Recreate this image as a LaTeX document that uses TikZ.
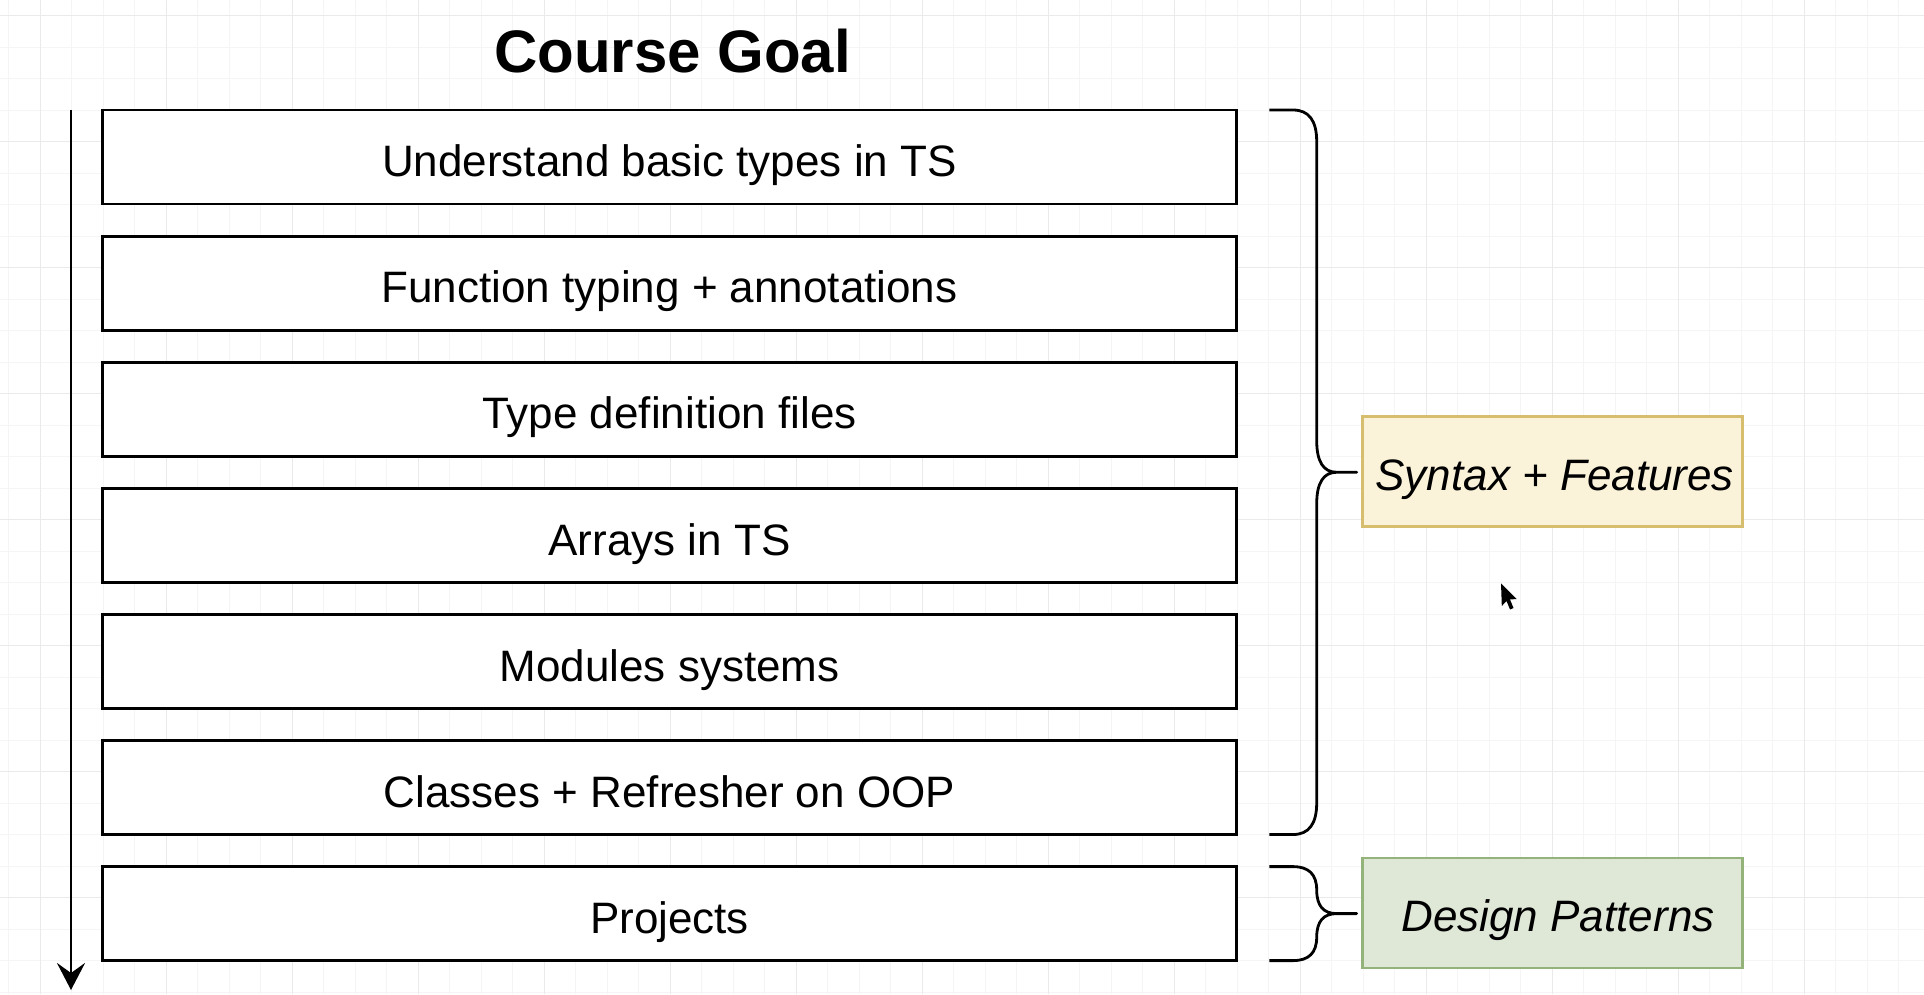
\documentclass[tikz,border=0pt]{standalone}
\usepackage{fontspec}
\setmainfont{Liberation Sans}
\usetikzlibrary{arrows.meta}
\definecolor{gridminor}{HTML}{F5F5F5}
\definecolor{gridmajor}{HTML}{EAEAEA}
\definecolor{synfill}{HTML}{FBF3D9}
\definecolor{syndraw}{HTML}{D6BE6E}
\definecolor{desfill}{HTML}{DFE8D7}
\definecolor{desdraw}{HTML}{93B37A}
\tikzset{
  goalbox/.style={draw=black, fill=white, line width=2.9pt, minimum width=1134.4pt, minimum height=94pt,
    inner sep=0pt, text height=39.4pt, text depth=0pt, font=\fontsize{44}{52}\selectfont},
  tagbox/.style={line width=2.7pt, minimum width=380pt, minimum height=110pt,
    inner sep=0pt, text height=37pt, text depth=0pt, font=\itshape\fontsize{44}{52}\selectfont},
  bracepath/.style={draw=black, line width=2.8pt, line join=round},
  timeline/.style={draw=black, line width=2.8pt, -{Stealth[length=27pt,width=28pt,inset=10pt]}},
  minorline/.style={draw=gridminor, line width=1pt},
  majorline/.style={draw=gridmajor, line width=1.3pt}
}
\begin{document}
\begin{tikzpicture}[x=1pt,y=-1pt]
\useasboundingbox (0,0) rectangle (1924,994);
\fill[white] (0,0) rectangle (1924,994);
% grid
\foreach \i in {0,...,61} {\draw[minorline] ({8.8+31.5*\i},0) -- ++(0,994);}
\foreach \i in {0,...,31} {\draw[minorline] (0,{15.5+31.5*\i}) -- ++(1924,0);}
\foreach \i in {0,...,14} {\draw[majorline] ({40.3+126*\i},0) -- ++(0,994);}
\foreach \i in {0,...,7} {\draw[majorline] (0,{15.5+126*\i}) -- ++(1924,0);}

% title
\node[anchor=base, inner sep=0pt, font=\bfseries\fontsize{60}{72}\selectfont] (title) at (672.5,72.7) {Course Goal};

% goal boxes
\node[goalbox] (b1) at (669.5,157.0) {Understand basic types in TS};
\node[goalbox] (b2) at (669.5,283.1) {Function typing + annotations};
\node[goalbox] (b3) at (669.5,409.2) {Type definition files};
\node[goalbox] (b4) at (669.5,535.3) {Arrays in TS};
\node[goalbox] (b5) at (669.5,661.4) {Modules systems};
\node[goalbox] (b6) at (669.5,787.5) {Classes + Refresher on OOP};
\node[goalbox] (b7) at (669.5,913.6) {Projects};

% timeline arrow
\coordinate (ts) at (71,110);
\coordinate (te) at (71,990);
\draw[timeline] (ts) -- (te);

% tag boxes
\node[tagbox, draw=syndraw, fill=synfill] (syn) at (1552.7,471.7) {\hspace*{4pt}Syntax + Features};
\node[tagbox, draw=desdraw, fill=desfill] (des) at (1552.5,913.0) {\hspace*{11pt}Design Patterns};

% brace 1
\draw[bracepath] (1269.3,110) -- (1293.0,110)
  .. controls (1308.8,110) and (1316.7,120.5) .. (1316.7,141.6)
  -- (1316.7,440.65)
  .. controls (1316.7,461.7) and (1323.4,472.25) .. (1336.7,472.25)
  -- (1356.7,472.25) -- (1336.7,472.25)
  .. controls (1323.4,472.25) and (1316.7,482.8) .. (1316.7,503.85)
  -- (1316.7,802.9)
  .. controls (1316.7,824.0) and (1308.8,834.5) .. (1293.0,834.5)
  -- (1269.3,834.5);

% brace 2
\draw[bracepath] (1269.3,866.6) -- (1293.0,866.6)
  .. controls (1308.8,866.6) and (1316.7,874.4) .. (1316.7,890.1)
  .. controls (1316.7,905.8) and (1323.4,913.6) .. (1336.7,913.6)
  -- (1356.7,913.6) -- (1336.7,913.6)
  .. controls (1323.4,913.6) and (1316.7,921.4) .. (1316.7,937.1)
  .. controls (1316.7,952.8) and (1308.8,960.6) .. (1293.0,960.6)
  -- (1269.3,960.6);

% mouse cursor
\fill[black] (1501,583.3) -- (1501.8,606) -- (1506.5,601) -- (1510,609.5) -- (1513.5,608) -- (1510,599.5) -- (1516.5,599) -- cycle;
\end{tikzpicture}
\end{document}
